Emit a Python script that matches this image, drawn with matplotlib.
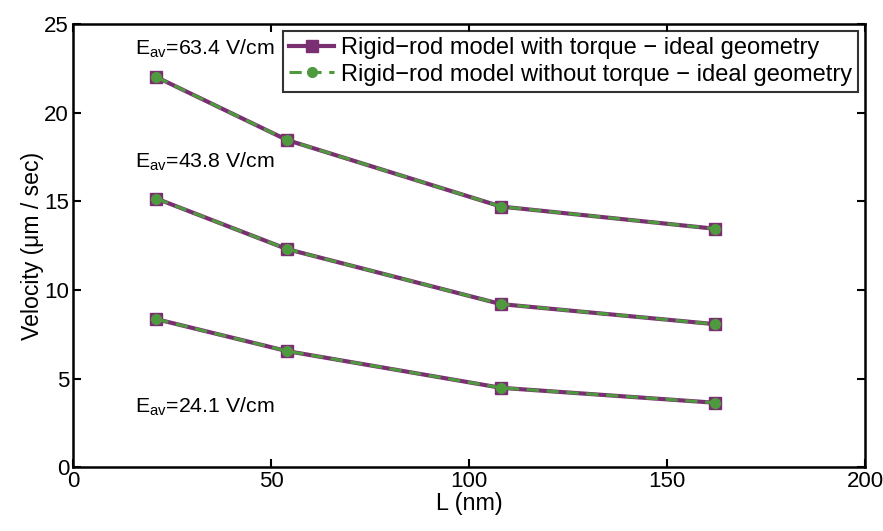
import matplotlib.pyplot as plt

plt.rcParams['font.family'] = ['Liberation Sans', 'DejaVu Sans']
plt.rcParams['mathtext.fontset'] = 'custom'
plt.rcParams['mathtext.rm'] = 'Liberation Sans'
plt.rcParams['mathtext.it'] = 'Liberation Sans'

# rod length (nm)
L = [21, 54, 108, 162]

# velocities (um/sec) for each average field
v_63 = [22.0, 18.45, 14.7, 13.45]
v_43 = [15.15, 12.3, 9.2, 8.07]
v_24 = [8.35, 6.55, 4.48, 3.64]

field_labels = ['63.4', '43.8', '24.1']
label_pos = [(15.5, 23.6), (15.5, 17.2), (15.5, 3.4)]

PURPLE = '#7a2f72'
GREEN = '#4f9a3e'

fig = plt.figure(figsize=(8.83, 5.31), dpi=100)
ax = fig.add_axes([0.083, 0.12, 0.897, 0.835])

for i, v in enumerate([v_63, v_43, v_24]):
    ax.plot(L, v, '-s', color=PURPLE, lw=3, ms=9, mfc=PURPLE, mec=PURPLE,
            label='Rigid\u2212rod model with torque \u2212 ideal geometry' if i == 0 else None)
    ax.plot(L, v, '--o', color=GREEN, lw=2.2, ms=7, mfc=GREEN, mec=GREEN,
            dashes=(4, 2.5),
            label='Rigid\u2212rod model without torque \u2212 ideal geometry' if i == 0 else None)

for lab, (x, y) in zip(field_labels, label_pos):
    ax.text(x, y, r'E$_{\mathrm{av}}$=' + lab + ' V/cm', fontsize=15.3, va='center', ha='left')

ax.set_xlim(0, 200)
ax.set_ylim(0, 25)
ax.set_xticks([0, 50, 100, 150, 200])
ax.set_yticks([0, 5, 10, 15, 20, 25])
ax.tick_params(direction='in', top=True, right=True, labelsize=16, length=6, width=1.5, pad=3)
for s in ax.spines.values():
    s.set_linewidth(1.8)

ax.set_xlabel('L (nm)', fontsize=16.8, labelpad=0)
ax.set_ylabel('Velocity (\u03bcm / sec)', fontsize=16.6, labelpad=0)

leg = ax.legend(loc='upper right', fontsize=17, frameon=True, fancybox=False,
                edgecolor='black', handlelength=1.9, borderaxespad=0.3,
                borderpad=0.25, labelspacing=0.2, handletextpad=0.3)
leg.get_frame().set_linewidth(1.5)

fig.savefig('out.png', dpi=100)
